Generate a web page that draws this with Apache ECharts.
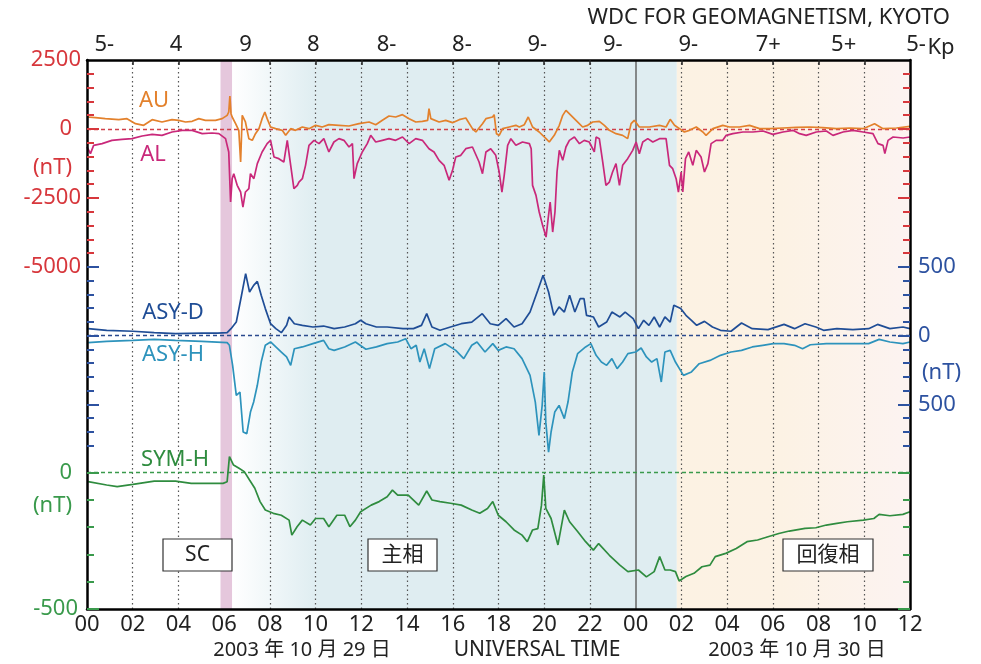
<!DOCTYPE html>
<html><head><meta charset="utf-8">
<script src="https://cdn.jsdelivr.net/npm/echarts@6/dist/echarts.min.js"></script>
<style>html,body{margin:0;padding:0;background:#fff}#c{width:981px;height:664px}</style>
</head><body><div id="c"></div>
<script>
// ---------- data (hours from 2003-10-29 00 UT, values in nT) ----------
const hourTicks = [0,2,4,6,8,10,12,14,16,18,20,22,24,26,28,30,32,34,36];
const dottedHours = [2,4,8,10,12,14,16,18,20,22,26,28,30,32,34];
const dayBoundary = 24;
const kpLabels = ['5-','4','9','8','8-','8-','9-','9-','9-','7+','5+','5-'];
const kpPos    = [0.76,3.9,6.93,9.9,13.1,16.4,19.7,23.0,26.3,29.8,33.1,36];
const scBand = [5.84, 6.35];
const mainFade = [6.35, 10];
const mainBand = [10, 25.8];
const recoveryBand = [25.8, 36];

const auData = [[0,435],[0.37,411],[0.8,375],[1.39,338],[1.75,375],[2.12,193],[2.48,133],[2.85,338],[3.28,254],[3.72,338],[4.01,314],[4.31,254],[4.6,278],[4.89,375],[5.18,314],[5.62,314],[5.91,375],[6.13,495],[6.2,616],[6.25,1196],[6.3,556],[6.35,435],[6.5,193],[6.64,-48],[6.72,-1196],[6.79,495],[6.86,556],[6.93,254],[7.08,-350],[7.23,-411],[7.37,-169],[7.52,12],[7.66,375],[7.78,616],[7.88,375],[8.03,72],[8.25,12],[8.54,-48],[8.69,-230],[8.91,12],[9.12,-48],[9.42,72],[9.71,12],[10.0,133],[10.29,72],[10.58,157],[11.02,133],[11.46,109],[11.9,193],[12.34,254],[12.63,157],[12.92,314],[13.21,471],[13.5,435],[13.8,519],[14.09,375],[14.38,254],[14.67,278],[14.9,314],[14.96,737],[15.04,375],[15.11,314],[15.4,254],[15.69,314],[15.99,230],[16.28,338],[16.57,399],[16.86,12],[17.01,-109],[17.3,193],[17.45,375],[17.74,435],[17.81,519],[17.91,-169],[18.03,-230],[18.18,12],[18.47,72],[18.76,133],[18.91,72],[19.13,157],[19.3,435],[19.49,72],[19.78,-109],[20.08,-350],[20.22,-471],[20.44,-230],[20.66,133],[20.81,495],[20.95,676],[21.17,495],[21.39,314],[21.68,72],[21.9,133],[22.12,254],[22.41,278],[22.63,133],[22.85,-48],[23.14,-169],[23.43,-230],[23.65,-350],[23.8,193],[23.94,314],[24.16,72],[24.6,72],[25.04,133],[25.33,72],[25.51,350],[25.7,133],[25.92,12],[26.13,-109],[26.35,-48],[26.65,72],[26.94,-109],[27.08,-230],[27.38,12],[27.81,133],[28.11,72],[28.54,72],[28.98,133],[29.42,12],[29.86,12],[30.44,36],[31.03,60],[31.61,72],[32.19,48],[32.78,12],[33.36,36],[33.95,12],[34.45,193],[34.53,133],[34.82,12],[35.41,36],[36,97]];

const alData = [[0,-652],[0.15,-894],[0.29,-592],[0.66,-531],[1.09,-411],[1.53,-374],[1.97,-350],[2.41,-254],[2.85,-193],[3.28,-230],[3.72,-109],[4.16,-48],[4.6,-48],[5.04,-169],[5.47,-145],[5.77,-169],[6.06,-350],[6.2,-833],[6.28,-2645],[6.35,-1800],[6.42,-1619],[6.57,-2042],[6.72,-2283],[6.82,-2827],[6.93,-2283],[7.08,-2162],[7.15,-1619],[7.3,-1800],[7.45,-1256],[7.66,-833],[7.88,-531],[8.03,-411],[8.18,-1015],[8.39,-1075],[8.61,-1196],[8.76,-411],[8.91,-1317],[9.05,-2162],[9.2,-2042],[9.27,-1921],[9.42,-1800],[9.56,-1317],[9.71,-592],[9.93,-411],[10.15,-531],[10.36,-350],[10.58,-833],[10.8,-471],[11.02,-350],[11.24,-411],[11.46,-652],[11.61,-531],[11.68,-1800],[11.82,-1256],[12.04,-833],[12.26,-531],[12.41,-230],[12.63,-471],[12.92,-411],[13.21,-350],[13.5,-411],[13.8,-290],[14.09,-531],[14.38,-350],[14.67,-411],[14.96,-713],[15.18,-833],[15.4,-1135],[15.62,-1317],[15.84,-1860],[15.99,-1498],[16.13,-1015],[16.35,-954],[16.57,-713],[16.86,-652],[17.15,-1196],[17.3,-1619],[17.45,-833],[17.66,-713],[17.88,-954],[18.03,-1558],[18.15,-2283],[18.25,-1679],[18.4,-592],[18.54,-350],[18.76,-592],[19.05,-471],[19.35,-531],[19.43,-713],[19.49,-2042],[19.64,-2404],[19.78,-3008],[19.93,-3491],[20.08,-3914],[20.18,-3189],[20.26,-2645],[20.37,-3733],[20.47,-3008],[20.56,-1558],[20.66,-773],[20.81,-1135],[20.95,-652],[21.1,-411],[21.32,-290],[21.54,-531],[21.75,-411],[21.97,-471],[22.19,-833],[22.27,-290],[22.41,-350],[22.56,-1196],[22.7,-2042],[22.85,-1921],[22.99,-1558],[23.14,-1256],[23.29,-2042],[23.43,-1317],[23.65,-1075],[23.87,-773],[24.02,-471],[24.16,-894],[24.31,-471],[24.53,-350],[24.75,-471],[25.04,-350],[25.33,-350],[25.48,-1317],[25.62,-1438],[25.77,-1800],[25.87,-2283],[25.99,-1558],[26.06,-2283],[26.18,-1075],[26.32,-833],[26.5,-1317],[26.65,-773],[26.86,-1015],[27.01,-1558],[27.16,-1256],[27.3,-531],[27.52,-411],[27.81,-411],[27.96,-230],[28.25,-169],[28.69,-109],[29.13,-109],[29.57,-72],[30.0,-193],[30.44,-109],[30.88,-48],[31.17,-169],[31.46,-230],[31.9,-109],[32.34,-72],[32.63,-230],[33.07,-109],[33.51,-48],[33.95,-109],[34.38,-169],[34.6,-531],[34.82,-592],[34.9,-894],[35.04,-411],[35.26,-290],[35.7,-326],[36,-290]];

const asyDData = [[0.05,51],[0.86,39],[2.01,32],[2.94,22],[3.87,15],[5.02,19],[5.72,19],[6.13,22],[6.3,51],[6.53,99],[6.76,294],[6.94,451],[7.11,318],[7.29,366],[7.45,395],[7.62,294],[7.8,197],[8.03,87],[8.26,51],[8.5,22],[8.73,75],[8.84,136],[9.07,87],[9.42,75],[9.88,63],[10.35,70],[10.81,51],[11.27,63],[11.74,87],[11.97,112],[12.2,87],[12.66,63],[13.13,63],[13.82,51],[14.28,51],[14.63,75],[14.86,160],[15.09,63],[15.44,39],[15.9,63],[16.37,87],[16.83,99],[17.29,160],[17.64,87],[17.99,75],[18.33,124],[18.68,63],[19.03,87],[19.38,172],[19.72,330],[19.95,439],[20.19,318],[20.42,148],[20.65,209],[20.88,172],[21.11,294],[21.34,172],[21.57,269],[21.74,269],[21.85,148],[22.15,136],[22.38,63],[22.73,99],[22.96,172],[23.31,136],[23.54,172],[23.89,124],[24.12,51],[24.35,112],[24.58,75],[24.81,136],[25.05,63],[25.28,136],[25.51,99],[25.67,221],[25.97,197],[26.2,148],[26.44,112],[26.67,75],[27.01,104],[27.36,63],[27.71,39],[28.17,32],[28.63,92],[29.1,51],[29.79,44],[30.49,82],[30.95,51],[31.41,87],[31.88,63],[32.22,39],[32.8,51],[33.5,44],[34.19,51],[34.58,82],[35.12,51],[35.69,63],[36,51]];

const asyHData = [[0.05,51],[0.86,41],[2.01,34],[2.94,27],[3.87,34],[5.02,41],[6.13,51],[6.23,70],[6.37,216],[6.53,434],[6.69,410],[6.83,701],[6.99,713],[7.15,556],[7.29,483],[7.45,361],[7.62,192],[7.8,70],[8.03,46],[8.26,82],[8.5,119],[8.73,155],[8.91,216],[9.07,95],[9.42,82],[9.88,58],[10.35,34],[10.58,95],[10.81,107],[11.27,82],[11.74,46],[12.2,99],[12.66,82],[13.13,58],[13.59,46],[13.94,22],[14.17,95],[14.4,70],[14.56,192],[14.75,95],[14.98,240],[15.21,95],[15.67,58],[16.13,107],[16.48,167],[16.83,70],[17.06,46],[17.41,119],[17.75,58],[17.99,107],[18.33,82],[18.68,95],[19.03,167],[19.38,289],[19.61,483],[19.77,725],[19.91,507],[20.0,264],[20.07,631],[20.19,847],[20.3,701],[20.46,556],[20.65,507],[20.88,604],[21.04,483],[21.23,264],[21.46,131],[21.81,82],[22.04,58],[22.27,143],[22.5,192],[22.73,216],[22.96,167],[23.19,240],[23.43,192],[23.66,131],[24.0,119],[24.24,90],[24.47,155],[24.7,192],[24.93,167],[25.12,337],[25.28,119],[25.51,107],[25.74,192],[26.09,289],[26.44,264],[26.78,204],[27.25,180],[27.71,143],[28.17,119],[28.63,107],[29.1,82],[29.56,70],[30.02,58],[30.49,58],[30.95,70],[31.3,95],[31.64,66],[32.34,58],[33.26,58],[34.19,58],[34.65,27],[35.12,46],[35.69,58],[36,46]];

const symHData = [[0.05,-33],[0.86,-45],[1.32,-51],[2.01,-43],[2.94,-31],[3.87,-31],[4.56,-39],[5.26,-39],[5.95,-39],[6.13,-33],[6.23,59],[6.41,28],[6.65,16],[6.88,4],[7.11,-27],[7.34,-57],[7.57,-106],[7.8,-137],[8.15,-149],[8.5,-156],[8.84,-174],[8.96,-229],[9.19,-198],[9.42,-174],[9.77,-192],[10.0,-168],[10.35,-168],[10.58,-198],[10.93,-156],[11.27,-156],[11.5,-198],[11.74,-174],[11.97,-143],[12.43,-119],[12.78,-106],[13.13,-88],[13.36,-64],[13.59,-82],[14.05,-82],[14.51,-119],[14.86,-67],[15.09,-100],[15.44,-106],[15.9,-112],[16.37,-119],[16.83,-137],[17.18,-149],[17.52,-131],[17.75,-106],[17.99,-156],[18.33,-180],[18.68,-210],[19.03,-229],[19.26,-253],[19.49,-210],[19.72,-205],[19.88,-119],[19.98,-9],[20.07,-131],[20.3,-168],[20.6,-265],[20.88,-137],[21.11,-180],[21.46,-216],[21.81,-253],[22.15,-284],[22.38,-260],[22.85,-303],[23.31,-339],[23.66,-363],[24.12,-357],[24.47,-382],[24.81,-363],[25.05,-308],[25.28,-357],[25.51,-357],[25.74,-363],[25.9,-397],[26.2,-381],[26.55,-369],[26.9,-345],[27.25,-339],[27.48,-308],[27.94,-296],[28.4,-278],[28.87,-253],[29.33,-247],[29.79,-235],[30.26,-223],[30.72,-214],[31.41,-204],[31.88,-202],[32.34,-192],[32.8,-186],[33.26,-180],[33.96,-174],[34.42,-168],[34.65,-153],[35.12,-158],[35.69,-153],[36,-143]];

// axis tick / label values
const redMajor = [0,-2500,-5000];
const redMinor = [2000,1500,1000,500,-500,-1000,-1500,-2000,-3000,-3500,-4000,-4500];
const redLabels = [2500,0,-1400,-2500,-5000];
const blueMajor = [500,0,-500];
const blueMinor = [400,300,200,100,-100,-200,-300,-400,-600,-700,-800];
const blueLabels = [500,0,-271,-500];
const greenMajor = [0,-500];
const greenMinor = [-100,-200,-300,-400];
const greenLabels = [0,-122,-500];

// ---------- styling ----------
const FONT = "'Noto Sans','Noto Sans CJK JP',sans-serif";
const RED = '#d7373c', BLUE = '#2d52a0', GREEN = '#3a9a4c';
const C_AU = '#e3812c', C_AL = '#c9287a', C_ASYD = '#1f4d96', C_ASYH = '#2d93bc', C_SYM = '#2f8c3f';
const RED_RANGE = [-17391, 2500], BLUE_RANGE = [-1989, 2006], GREEN_RANGE = [-500, 1514];

function ax(pos, range, o) {
  return Object.assign({type:'value', position:pos, min:range[0], max:range[1], z:10,
    splitLine:{show:false}, axisLine:{show:false, onZero:false}, axisLabel:{show:false}, axisTick:{show:false}}, o || {});
}
function tk(pos, range, vals, color, len) {
  return ax(pos, range, {axisTick:{show:true, inside:true, length:len, customValues:vals, lineStyle:{color:color, width:2}}});
}
function rs(color, pad) { return {s:{color:color, fontSize:22, fontFamily:FONT, padding:pad}}; }

const yAxes = [
  // 0 red labels (left)
  ax('left', RED_RANGE, {
    axisLine:{show:true, onZero:false, lineStyle:{color:'#000', width:2.5}},
    axisTick:{show:true, inside:true, length:12, customValues:redMajor, lineStyle:{color:RED, width:2}},
    axisLabel:{show:true, customValues:redLabels, margin:6, color:RED, fontSize:22, fontFamily:FONT,
      formatter: v => v === -1400 ? '{s|(nT)}' : (v === 0 ? '{s|0}' : String(v)), rich: rs(RED,[0,9,0,0])}
  }),
  tk('left', RED_RANGE, redMinor, RED, 7),
  tk('right', RED_RANGE, redMajor, RED, 12),
  tk('right', RED_RANGE, redMinor, RED, 7),
  // 4 blue labels (right)
  ax('right', BLUE_RANGE, {
    axisLine:{show:true, onZero:false, lineStyle:{color:'#000', width:2.5}},
    axisTick:{show:true, inside:true, length:12, customValues:blueMajor, lineStyle:{color:BLUE, width:2}},
    axisLabel:{show:true, customValues:blueLabels, margin:8, color:BLUE, fontSize:22, fontFamily:FONT,
      formatter: v => v === -271 ? '{s|(nT)}' : String(Math.abs(v)), rich: rs(BLUE,[0,0,0,4])}
  }),
  tk('right', BLUE_RANGE, blueMinor, BLUE, 7),
  tk('left', BLUE_RANGE, blueMajor, BLUE, 12),
  tk('left', BLUE_RANGE, blueMinor, BLUE, 7),
  // 8 green labels (left)
  ax('left', GREEN_RANGE, {
    axisTick:{show:true, inside:true, length:12, customValues:greenMajor, lineStyle:{color:GREEN, width:2}},
    axisLabel:{show:true, customValues:greenLabels, margin:6, color:GREEN, fontSize:22, fontFamily:FONT,
      formatter: v => v === -122 ? '{s|(nT)}' : (v === 0 ? '{s|0}' : '{t|' + v + '}'),
      rich: {s:{color:GREEN, fontSize:22, fontFamily:FONT, padding:[0,9,0,0]}, t:{color:GREEN, fontSize:22, fontFamily:FONT, padding:[0,3,0,0]}}}
  }),
  tk('left', GREEN_RANGE, greenMinor, GREEN, 7),
  tk('right', GREEN_RANGE, greenMajor, GREEN, 12),
  tk('right', GREEN_RANGE, greenMinor, GREEN, 7)
];

const xAxes = [
  {type:'value', position:'bottom', min:0, max:36, interval:2, z:10,
    axisLine:{show:true, onZero:false, lineStyle:{color:'#000', width:2.5}}, axisTick:{show:false}, splitLine:{show:false},
    axisLabel:{color:'#222', fontSize:22, fontFamily:FONT, margin:5,
      formatter: v => String(v % 24).padStart(2,'0')}},
  {type:'value', position:'top', min:0, max:36, z:10,
    axisLine:{show:true, onZero:false, lineStyle:{color:'#000', width:2.5}},
    axisTick:{show:true, inside:true, length:5, customValues:dottedHours, lineStyle:{color:'#222', width:1.5}},
    splitLine:{show:false},
    axisLabel:{show:true, customValues:kpPos, color:'#222', fontSize:22, fontFamily:FONT, margin:4,
      formatter: v => { const i = kpPos.indexOf(v); return i === kpPos.length-1 ? '{e|'+kpLabels[i]+'}' : kpLabels[i]; },
      rich:{e:{color:'#222', fontSize:22, fontFamily:FONT, padding:[0,0,0,12]}}}}
];

const blueFade = new echarts.graphic.LinearGradient(0,0,1,0,[{offset:0,color:'#ffffff'},{offset:1,color:'#dfedf1'}]);
const orangeFade = new echarts.graphic.LinearGradient(0,0,1,0,[{offset:0,color:'#fcf2e3'},{offset:0.45,color:'#fcf2e4'},{offset:1,color:'#fcf3f1'}]);

function line(name, data, yIdx, color, extra) {
  return Object.assign({name, type:'line', data, xAxisIndex:0, yAxisIndex:yIdx, symbol:'none', z:5,
    lineStyle:{color, width:1.7}, itemStyle:{color}, silent:true}, extra || {});
}
function zeroLine(color) {
  return {silent:true, symbol:['none','none'], label:{show:false}, lineStyle:{color, type:[4,3], width:1.3}, data:[{yAxis:0}]};
}

const series = [
  {type:'line', data:[], xAxisIndex:0, yAxisIndex:0, z:1, silent:true,
    markArea:{silent:true, data:[
      [{xAxis:scBand[0], itemStyle:{color:'#e5c7dc'}}, {xAxis:scBand[1]}],
      [{xAxis:mainFade[0], itemStyle:{color:blueFade}}, {xAxis:mainFade[1]}],
      [{xAxis:mainBand[0], itemStyle:{color:'#dfedf1'}}, {xAxis:mainBand[1]}],
      [{xAxis:recoveryBand[0], itemStyle:{color:orangeFade}}, {xAxis:recoveryBand[1]}]
    ]}},
  {type:'line', data:[], xAxisIndex:0, yAxisIndex:0, z:2, silent:true,
    markLine:{silent:true, symbol:['none','none'], label:{show:false},
      lineStyle:{color:'#555', type:[1.5,3], width:1.2},
      data: dottedHours.map(h => ({xAxis:h})).concat([{xAxis:dayBoundary, lineStyle:{color:'#666', type:'solid', width:1.5}}])}},
  line('AU', auData, 0, C_AU, {markLine: zeroLine('#d0404a')}),
  line('AL', alData, 0, C_AL),
  line('ASY-D', asyDData, 4, C_ASYD, {markLine: zeroLine('#2a4a8e')}),
  line('ASY-H', asyHData.map(p => [p[0], -p[1]]), 4, C_ASYH),
  line('SYM-H', symHData, 8, C_SYM, {markLine: zeroLine('#3a9a4c')})
];

function txt(t, x, y, color, size, align) {
  return {type:'text', z:100, x:x, y:y, style:{text:t, fill:color, font:size+'px '+FONT, textAlign:align||'center', textVerticalAlign:'middle'}};
}
function box(t, x, y, w, h) {
  return [{type:'rect', z:99, shape:{x:x, y:y, width:w, height:h}, style:{fill:'#fff', stroke:'#333', lineWidth:1.2}},
          txt(t, x + w/2, y + h/2, '#222', 21)];
}

const graphic = [
  txt('WDC FOR GEOMAGNETISM, KYOTO', 950, 18, '#222', 22, 'right'),
  txt('Kp', 941, 48, '#222', 22),
  txt('AU', 154, 101, C_AU, 22),
  txt('AL', 153, 155, C_AL, 22),
  txt('ASY-D', 173, 313, C_ASYD, 22),
  txt('ASY-H', 173, 355, C_ASYH, 22),
  txt('SYM-H', 175, 460, C_SYM, 22),
  txt('2003 年 10 月 29 日', 302, 650, '#222', 20),
  txt('UNIVERSAL TIME', 537, 650, '#222', 21),
  txt('2003 年 10 月 30 日', 797, 650, '#222', 20)
].concat(box('SC', 163, 539, 69, 32), box('主相', 368, 539, 69, 32), box('回復相', 783, 539, 90, 32));

const chart = echarts.init(document.getElementById('c'), null, {renderer:'canvas'});
chart.setOption({
  animation:false,
  backgroundColor:'#ffffff',
  grid:{left:87, right:71, top:60, bottom:55, containLabel:false},
  xAxis:xAxes, yAxis:yAxes, series:series, graphic:graphic
});
</script></body></html>
